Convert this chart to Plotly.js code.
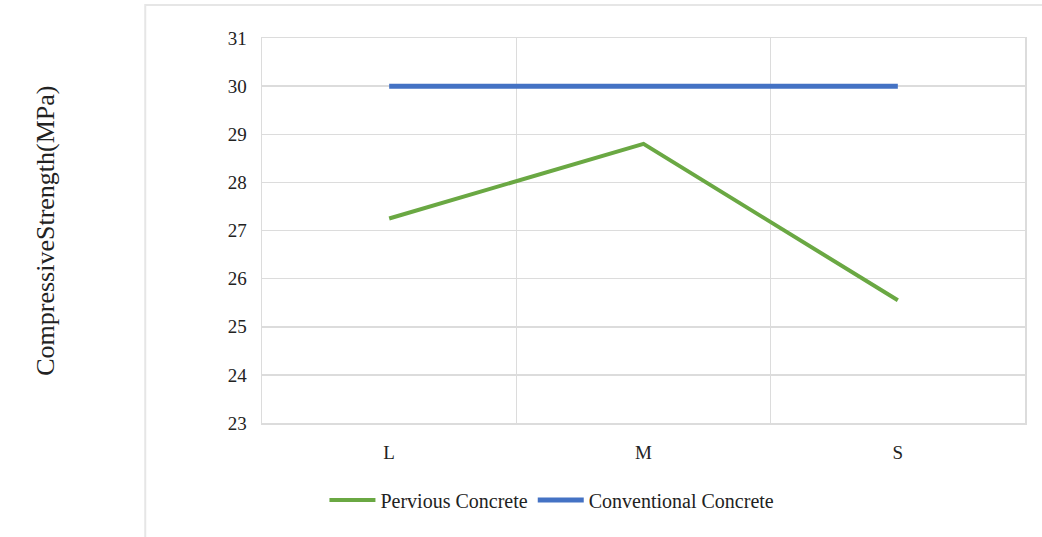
<!DOCTYPE html>
<html>
<head>
<meta charset="utf-8">
<script src="https://cdn.plot.ly/plotly-3.0.1.min.js"></script>
<style>html,body{margin:0;padding:0;background:#fff;}#chart{width:1042px;height:537px;}</style>
</head>
<body>
<div id="chart"></div>
<script>
const categories = ["L", "M", "S"];
const perviousConcrete = [27.25, 28.8, 25.55];
const conventionalConcrete = [30, 30, 30];
const yTickVals = [23, 24, 25, 26, 27, 28, 29, 30, 31];
const yTitle = "CompressiveStrength(MPa)";

const font = {family: "Liberation Serif, Times New Roman, serif", color: "#222"};

const traces = [
  {x: categories, y: perviousConcrete, type: "scatter", mode: "lines", name: "Pervious Concrete",
   line: {color: "#6aa843", width: 4}},
  {x: categories, y: conventionalConcrete, type: "scatter", mode: "lines", name: "Conventional Concrete",
   line: {color: "#4472c4", width: 5}}
];

const layout = {
  width: 1042, height: 537,
  margin: {l: 262, r: 17, t: 38, b: 114},
  paper_bgcolor: "#fff", plot_bgcolor: "#fff",
  font: Object.assign({size: 16}, font),
  showlegend: true,
  legend: {orientation: "h", x: 0.38, xanchor: "center", y: -0.2, yanchor: "middle",
           font: Object.assign({size: 20}, font), tracegroupgap: 0, itemwidth: 46},
  xaxis: {type: "category", range: [-0.5, 2.5], tickson: "boundaries",
          showgrid: true, gridcolor: "#dcdcdc", gridwidth: 1.5,
          showline: true, mirror: true, linecolor: "#dcdcdc", linewidth: 1.5,
          ticks: "", ticklabelstandoff: 12, zeroline: false,
          tickfont: Object.assign({size: 19}, font)},
  yaxis: {range: [23, 31], tickvals: yTickVals, showgrid: true, gridcolor: "#dcdcdc", gridwidth: 1.5,
          showline: true, mirror: true, linecolor: "#dcdcdc", linewidth: 1.5, zeroline: false,
          ticks: "", ticklabelstandoff: 10,
          tickfont: Object.assign({size: 19}, font)},
  annotations: [
    {text: yTitle, xref: "paper", yref: "paper", x: -0.284, y: 0.5, xanchor: "center", yanchor: "middle",
     textangle: -90, showarrow: false, font: Object.assign({size: 26}, font)}
  ],
  shapes: [
    {type: "rect", xref: "paper", yref: "paper", x0: -0.153, x1: 1.1, y0: -0.4, y1: 1.086,
     line: {color: "#e6e6e6", width: 2}, fillcolor: "rgba(0,0,0,0)", layer: "below"}
  ]
};

Plotly.newPlot("chart", traces, layout, {displayModeBar: false, staticPlot: true});
</script>
</body>
</html>
